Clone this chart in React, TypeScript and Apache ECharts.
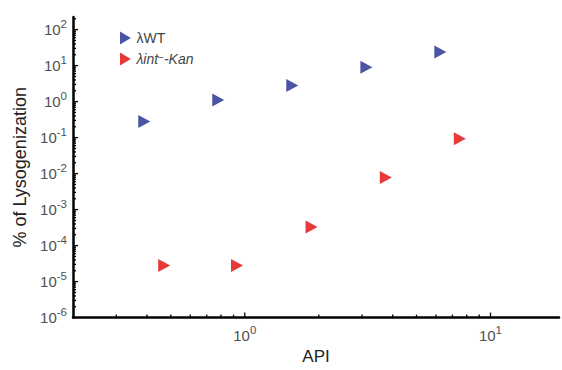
import React, { useEffect, useRef } from "react";
import * as echarts from "echarts";

// ---- data ----
const wtX = [0.39, 0.78, 1.56, 3.125, 6.25];
const wtY = [0.28, 1.1, 2.8, 9.0, 24];
const kanX = [0.47, 0.93, 1.87, 3.75, 7.5];
const kanY = [2.8e-5, 2.8e-5, 3.3e-4, 7.8e-3, 0.093];

const seriesNames = ["λWT", "λint⁻-Kan"];
const seriesColors = ["#4b55a3", "#e8383a"];

// ---- axis extents and ticks ----
const X_MIN = 0.2;
const X_MAX = 19;
const Y_MIN = 1e-6;
const Y_MAX = 224;
const xMajor = [1, 10];
const xMinor = [0.3, 0.4, 0.5, 0.6, 0.7, 0.8, 0.9, 2, 3, 4, 5, 6, 7, 8, 9];
const yMajor = [1e-5, 1e-4, 1e-3, 1e-2, 1e-1, 1, 10, 100];
const yDecades = [1e-6, 1e-5, 1e-4, 1e-3, 1e-2, 1e-1, 1, 10, 100];
const minorMult = [2, 3, 4, 5, 6, 7, 8, 9];

const FONT = "'Liberation Sans', Arial, Helvetica, sans-serif";

function powLabel(v: number): string {
  const e = Math.log10(v);
  const r = Math.round(e);
  if (Math.abs(e - r) > 1e-6) return "";
  return "{b|10}{s|" + String(r) + "}";
}

const labelRich = {
  b: { fontSize: 15, color: "#505050", fontFamily: FONT, lineHeight: 24 },
  s: { fontSize: 11.5, color: "#505050", fontFamily: FONT, lineHeight: 24, verticalAlign: "top" },
};

export default function App() {
  const ref = useRef<HTMLDivElement>(null);
  useEffect(() => {
    if (!ref.current) return;
    const chart = echarts.init(ref.current, undefined, { renderer: "svg" });

    const yMinorVals: number[] = [];
    yDecades.forEach((d) => minorMult.forEach((m) => {
      const v = d * m;
      if (v < Y_MAX) yMinorVals.push(v);
    }));

    const xTickData = [
      ...xMajor.map((v) => [v, Y_MIN, 5]),
      ...xMinor.map((v) => [v, Y_MIN, 3]),
    ];
    const yTickData = [
      ...yMajor.map((v) => [X_MIN, v, 5]),
      ...yMinorVals.map((v) => [X_MIN, v, 3]),
    ];

    const tickSeries = (data: number[][], horizontal: boolean) => ({
      type: "custom",
      silent: true,
      clip: false,
      z: 10,
      data,
      renderItem: (params: any, api: any) => {
        const p = api.coord([api.value(0), api.value(1)]);
        const len = api.value(2);
        return {
          type: "line",
          shape: horizontal
            ? { x1: p[0], y1: p[1], x2: p[0], y2: p[1] - len }
            : { x1: p[0], y1: p[1], x2: p[0] + len, y2: p[1] },
          style: { stroke: "#000", lineWidth: 1.3 },
        };
      },
    });

    const tri = "path://M0,0L10,6L0,12Z";

    chart.setOption({
      animation: false,
      backgroundColor: "#ffffff",
      grid: { left: 73, right: 0, top: 17, bottom: 42, containLabel: false },
      legend: {
        orient: "vertical",
        left: 115,
        top: 26,
        itemWidth: 12,
        itemHeight: 13,
        itemGap: 7,
        data: seriesNames.map((n) => ({ name: n, icon: tri })),
        formatter: (name: string) =>
          name === seriesNames[0] ? "{n|λWT}" : "{i|λint}{sup|−}{i|-Kan}",
        textStyle: {
          fontFamily: FONT,
          fontSize: 14,
          color: "#444",
          rich: {
            n: { fontSize: 14, color: "#444", fontFamily: FONT },
            i: { fontSize: 14, color: "#444", fontFamily: FONT, fontStyle: "italic" },
            sup: { fontSize: 10, color: "#444", fontFamily: FONT, verticalAlign: "top", lineHeight: 14 },
          },
        },
      },
      xAxis: {
        type: "log",
        min: X_MIN,
        max: X_MAX,
        name: "API",
        nameLocation: "middle",
        nameGap: 28,
        nameTextStyle: { fontFamily: FONT, fontSize: 17, color: "#222" },
        axisLine: { show: true, onZero: false, lineStyle: { color: "#000", width: 2.5 } },
        axisTick: { show: false },
        minorTick: { show: false },
        splitLine: { show: false },
        axisLabel: {
          margin: 6,
          formatter: powLabel,
          rich: labelRich,
          showMinLabel: true,
          showMaxLabel: true,
        },
      },
      yAxis: {
        type: "log",
        min: Y_MIN,
        max: Y_MAX,
        name: "% of Lysogenization",
        nameLocation: "middle",
        nameRotate: 90,
        nameGap: 43,
        nameTextStyle: { fontFamily: FONT, fontSize: 18, color: "#222" },
        axisLine: { show: true, onZero: false, lineStyle: { color: "#000", width: 2.5 } },
        axisTick: { show: false },
        minorTick: { show: false },
        splitLine: { show: false },
        axisLabel: {
          margin: 6,
          formatter: powLabel,
          rich: labelRich,
        },
      },
      series: [
        {
          name: seriesNames[0],
          type: "scatter",
          symbol: tri,
          symbolSize: [12, 13],
          itemStyle: { color: seriesColors[0], opacity: 1 },
          data: wtX.map((x, i) => [x, wtY[i]]),
          z: 5,
        },
        {
          name: seriesNames[1],
          type: "scatter",
          symbol: tri,
          symbolSize: [12, 13],
          itemStyle: { color: seriesColors[1], opacity: 1 },
          data: kanX.map((x, i) => [x, kanY[i]]),
          z: 5,
        },
        tickSeries(xTickData, true),
        tickSeries(yTickData, false),
      ],
    });
    return () => chart.dispose();
  }, []);
  return (
    <div
      ref={ref}
      style={{ position: "fixed", left: 0, top: 0, width: 562, height: 370, background: "#fff" }}
    />
  );
}
